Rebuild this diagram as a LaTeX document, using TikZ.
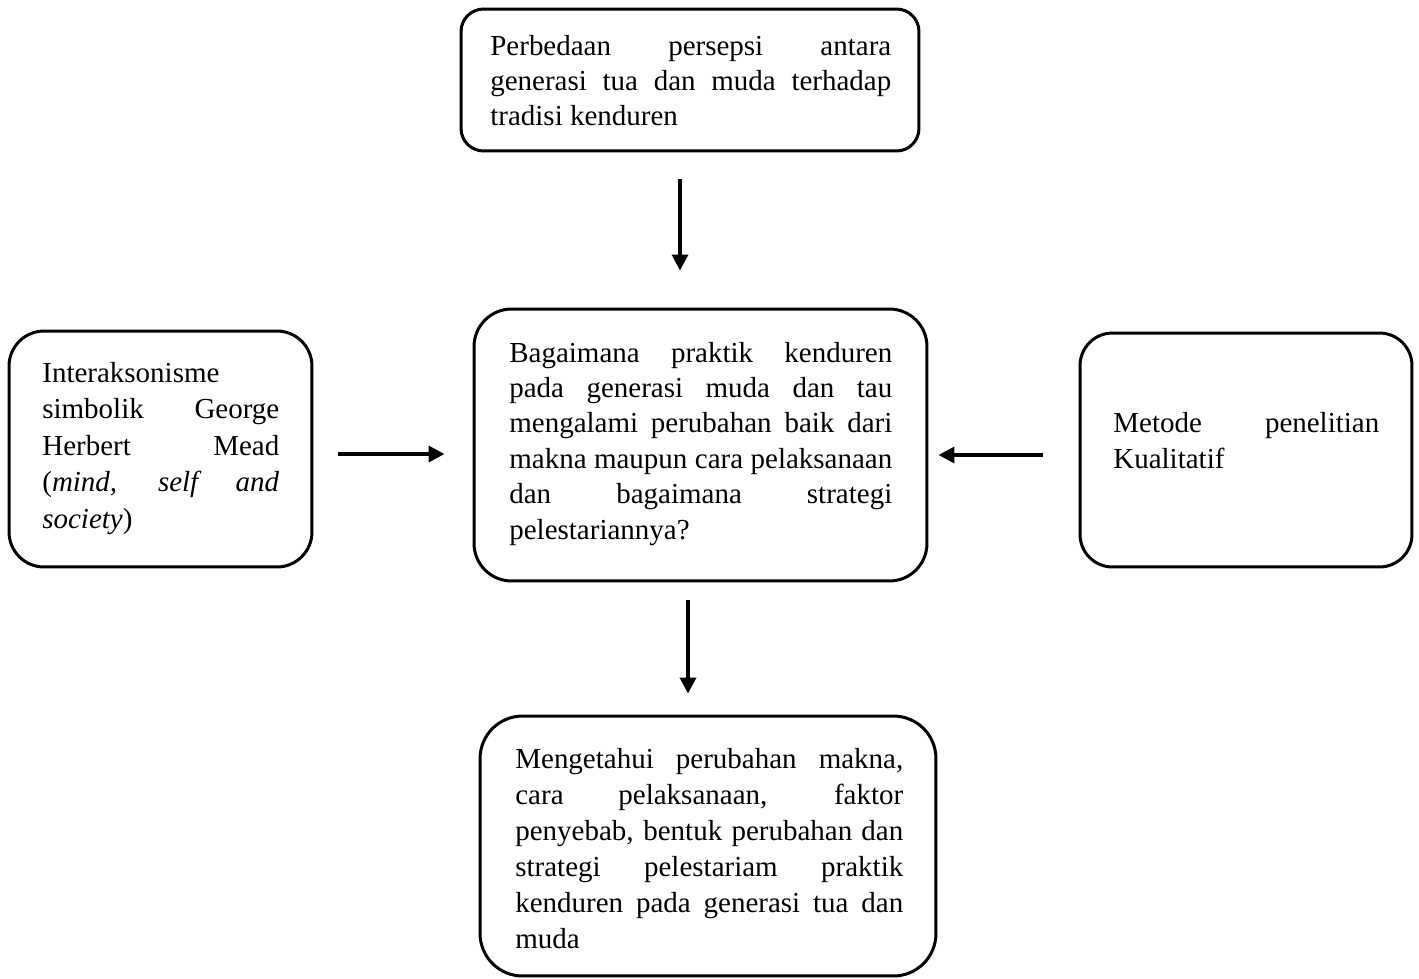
\documentclass[tikz,border=0pt]{standalone}
\usepackage{fontspec}
\setmainfont{Liberation Serif}
\usetikzlibrary{arrows.meta}
\tolerance=9999
\hbadness=10000

\tikzset{
  kotak/.style={draw, line width=0.06cm},
  teks/.style={anchor=base west, inner sep=0pt, align=justify,
    font=\fontsize{16.5}{20.5}\selectfont},
  panah/.style={line width=0.07cm, -{Triangle[length=0.32cm, width=0.32cm]}}
}

\begin{document}
\begin{tikzpicture}[x=0.02cm, y=-0.02cm]
                    \useasboundingbox (0, 0) rectangle (1419, 978);

                    % kotak
                    \node (persepsi) [kotak, rounded corners=0.45cm, minimum width=9.16cm, minimum height=2.84cm] at (690, 80) {};
                    \node (masalah) [kotak, rounded corners=0.75cm, minimum width=9.06cm, minimum height=5.44cm] at (700.5, 445) {};
                    \node (teori) [kotak, rounded corners=0.7cm, minimum width=6.06cm, minimum height=4.72cm] at (160.5, 449) {};
                    \node (metode) [kotak, rounded corners=0.65cm, minimum width=6.64cm, minimum height=4.68cm] at (1246, 450) {};
                    \node (tujuan) [kotak, rounded corners=0.85cm, minimum width=9.12cm, minimum height=5.2cm] at (708, 846) {};

                    % isi kotak
                    \node (persepsi-t) [teks, text width=8.02cm, font=\fontsize{16.5}{20.2}\selectfont] at (490, 55) {Perbedaan persepsi antara\linebreak generasi tua dan muda terhadap\linebreak tradisi kenduren};
                    \node (masalah-t) [teks, text width=7.66cm, font=\fontsize{16.5}{20.2}\selectfont] at (509, 362) {Bagaimana praktik kenduren\linebreak pada generasi muda dan tau\linebreak mengalami perubahan baik dari\linebreak makna maupun cara pelaksanaan\linebreak dan bagaimana strategi\linebreak pelestariannya?};
                    \node (teori-t) [teks, text width=4.74cm, font=\fontsize{16.5}{20.8}\selectfont] at (42, 382) {Interaksonisme\newline simbolik George\linebreak Herbert Mead\linebreak (\textit{mind,} \textit{self} \textit{and}\linebreak \textit{society})};
                    \node (metode-t) [teks, text width=5.32cm, font=\fontsize{16.5}{20.8}\selectfont] at (1113, 432) {Metode penelitian\linebreak Kualitatif};
                    \node (tujuan-t) [teks, text width=7.76cm] at (515, 768) {Mengetahui perubahan makna,\linebreak cara pelaksanaan, faktor\linebreak penyebab, bentuk perubahan dan\linebreak strategi pelestariam praktik\linebreak kenduren pada generasi tua dan\linebreak muda};

                    % posisi panah
                    \coordinate (p1) at (680, 0);
                    \coordinate (p2) at (0, 454);
                    \coordinate (p3) at (0, 455);
                    \coordinate (p4) at (688, 0);

                    \draw (persepsi.south -| p1) edge[panah, shorten <=0.54cm, shorten >=0.74cm] (masalah.north -| p1);
                    \draw (teori.east |- p2) edge[panah, shorten <=0.5cm, shorten >=0.56cm] (masalah.west |- p2);
                    \draw (metode.west |- p3) edge[panah, shorten <=0.72cm, shorten >=0.2cm] (masalah.east |- p3);
                    \draw (masalah.south -| p4) edge[panah, shorten <=0.36cm, shorten >=0.42cm] (tujuan.north -| p4);
                \end{tikzpicture}
\end{document}
